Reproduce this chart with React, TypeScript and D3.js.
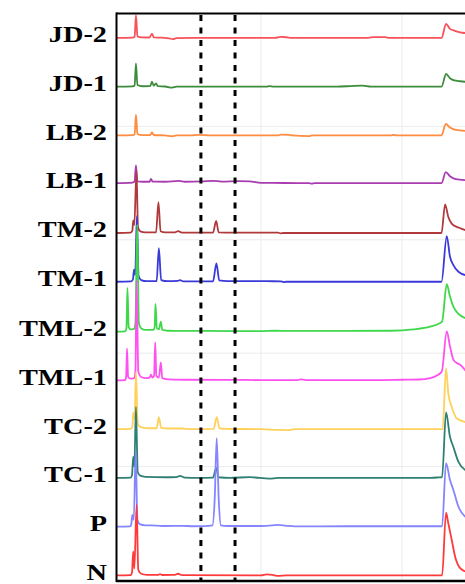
import * as d3 from 'd3';

// sample names, top to bottom
const labels = ['JD-2', 'JD-1', 'LB-2', 'LB-1', 'TM-2', 'TM-1', 'TML-2', 'TML-1', 'TC-2', 'TC-1', 'P', 'N'];
const colors = ['#f8515a', '#3c8c3c', '#ff8c40', '#a93cb0', '#b0393b', '#3a3ad8', '#3ed84a', '#ff50f0', '#ffd05a', '#2f7f72', '#8585ff', '#ff3a3a'];
// vertical offset of every trace (intensity units)
const offsets = [478, 435, 392, 350, 306, 263, 219, 176, 133, 90, 47, 4];
// retention times of the dashed markers (min)
const markers = [2.87, 4.08];
const gridX = [5, 10];
const gridY = [100, 200, 300, 400];

// chromatogram points: [time (min), intensity above offset]
const jd2 = [[-0.14, 0], [0.45, 0.3], [0.52, 1], [0.567, 20], [0.62, 1.5], [0.75, 0.5], [1.05, 0.4], [1.135, 3.9], [1.2, 0.5], [1.5, 0.2], [1.75, -0.4], [1.88, -1.1], [2.0, -0.2], [2.6, 0], [5.5, 0], [5.7, 0.9], [5.9, 0.6], [6.1, 0], [8.8, 0], [9.0, 0.8], [9.4, 0.7], [9.55, 0], [11.4, 0], [11.56, 12.3], [11.7, 8], [11.85, 6.5], [12.06, 5], [12.3, 4.2]];
const jd1 = [[-0.14, 0], [0.45, 0.3], [0.52, 1], [0.567, 20.6], [0.62, 1.5], [0.8, 0.4], [1.07, 0.5], [1.135, 4.4], [1.2, 1], [1.28, 3.0], [1.34, 0.5], [1.6, 0.2], [1.85, -0.8], [2.0, 0], [5.2, 0], [5.3, 0.6], [5.45, 0], [7.7, 0], [8.3, 0.8], [8.6, 0.9], [8.9, 0], [11.4, 0], [11.56, 11.2], [11.7, 7.5], [11.85, 5.5], [12.06, 4.8], [12.3, 4.2]];
const lb2 = [[-0.14, 0], [0.45, 0.3], [0.52, 1], [0.567, 18.3], [0.62, 1.3], [0.8, 0.3], [1.07, 0.4], [1.135, 2.6], [1.2, 0.4], [1.6, 0], [1.85, -0.8], [2.0, 0], [2.5, 0], [2.8, 0.5], [3.2, 0], [5.6, 0], [5.7, 0.8], [6.0, 0.6], [6.1, 0], [6.7, -0.6], [6.8, 0], [9.6, 0], [9.7, 0.6], [9.8, 0], [11.4, 0], [11.55, 10.3], [11.7, 7], [11.9, 5], [12.3, 4]];
const lb1 = [[-0.14, 0], [0.45, 0.5], [0.52, 1.5], [0.567, 15.6], [0.62, 1.6], [0.8, 1.2], [1.05, 1.2], [1.1, 3.6], [1.16, 1.3], [1.6, 1.2], [2.1, 1.9], [2.3, 1.2], [2.9, 1.5], [3.3, 2], [3.6, 1.3], [4.2, 1.7], [4.6, 1.5], [5.0, 0.2], [6.7, 0], [6.8, -0.5], [6.9, 0], [11.4, 0], [11.55, 9.7], [11.7, 6], [11.9, 3.5], [12.3, 2.5]];
const tm2 = [[-0.14, 0], [0.38, 0.3], [0.44, 2], [0.47, 11.2], [0.51, 7], [0.585, 54.7], [0.64, 5], [0.72, 1.5], [0.9, 0.6], [1.28, 0.6], [1.365, 27.3], [1.44, 1.5], [1.6, 0.5], [1.95, 0.6], [2.06, 1.6], [2.2, 0.4], [3.3, 0.4], [3.41, 10.6], [3.5, 0.6], [4.0, 0.3], [5.6, 0.3], [5.7, -0.3], [5.8, 0], [11.4, 0], [11.525, 25.3], [11.64, 14.1], [11.76, 8.3], [12.0, 4.8], [12.3, 2.2]];
const tm1 = [[-0.14, 0], [0.4, 0.3], [0.46, 2], [0.5, 10.6], [0.54, 6], [0.6, 57.9], [0.66, 5], [0.75, 1.5], [0.95, 0.5], [1.3, 0.5], [1.38, 29.7], [1.46, 1.5], [1.7, 0.5], [2.05, 0.8], [2.13, 1.5], [2.25, 0.3], [3.3, 0.4], [3.42, 16.2], [3.52, 1.2], [3.8, 0.6], [4.5, 0.6], [5.2, 0.5], [5.7, 0.4], [5.8, -0.3], [5.9, 0], [11.4, 0], [11.585, 40.3], [11.7, 22], [11.82, 14.7], [12.0, 8.8], [12.3, 5.5]];
const tml2 = [[-0.14, 0], [0.18, 0.3], [0.23, 3], [0.266, 38.5], [0.31, 4], [0.38, 2], [0.5, 2.5], [0.55, 8], [0.61, 94.4], [0.67, 8], [0.75, 3], [0.9, 1.5], [1.18, 1.5], [1.23, 4], [1.26, 24.4], [1.31, 3], [1.38, 2], [1.45, 8.8], [1.5, 1.5], [1.7, 0.8], [2.2, 0.6], [3.0, 0.6], [5.0, 0.5], [5.5, 0.8], [6.0, 0.6], [8.0, 0.6], [9.6, 0.8], [10.4, 2], [11.0, 4.4], [11.3, 7], [11.42, 9], [11.585, 41.8], [11.7, 30.9], [11.82, 22], [12.0, 15.6], [12.3, 11.5]];
const tml1 = [[-0.14, 0], [0.18, 0.3], [0.22, 3], [0.25, 28.2], [0.29, 3], [0.38, 1.5], [0.5, 2], [0.55, 8], [0.59, 88], [0.65, 8], [0.75, 3], [0.95, 2], [1.05, 2.5], [1.1, 5], [1.15, 2.5], [1.21, 4], [1.25, 33.5], [1.29, 4], [1.38, 2.5], [1.45, 15.9], [1.5, 2], [1.7, 1], [2.3, 0.6], [4.0, 0.5], [5.0, 0.3], [6.3, 0.3], [6.4, 0.9], [6.6, 0.3], [9.0, 0.3], [10.0, 0.6], [10.6, 0.8], [11.0, 2], [11.25, 4.5], [11.41, 7.9], [11.585, 43.2], [11.7, 30], [11.82, 18.3], [11.94, 15.3], [12.06, 13.8], [12.3, 7]];
const tc2 = [[-0.14, 0], [0.38, 0.3], [0.44, 2], [0.475, 14.7], [0.52, 9], [0.567, 50.3], [0.63, 5], [0.72, 2], [0.9, 1], [1.3, 0.8], [1.38, 10.6], [1.46, 1.2], [1.7, 0.6], [2.2, 0.6], [2.5, 0], [3.32, 0.3], [3.43, 10.6], [3.53, 0.8], [3.8, 0.3], [5.0, 0], [5.6, -0.6], [6.0, -0.8], [6.2, 0], [11.44, 0], [11.56, 53.8], [11.64, 31.5], [11.76, 19.7], [11.94, 9.4], [12.3, 6]];
const tc1 = [[-0.14, 0], [0.38, 0.3], [0.43, 3], [0.47, 18.5], [0.51, 10], [0.567, 62.6], [0.63, 5], [0.72, 2], [0.9, 1], [1.6, 0.6], [2.0, 0.8], [2.13, 1.8], [2.3, 0.3], [2.8, 0], [3.3, 0.3], [3.41, 8.8], [3.5, 0.6], [3.9, 0], [4.6, 0.8], [4.8, 0.4], [5.3, -0.6], [5.6, 0], [8.0, 0], [11.0, 0], [11.3, 0.5], [11.42, 0.8], [11.56, 57.7], [11.7, 36.2], [11.82, 27.3], [12.0, 14.1], [12.3, 6]];
const p = [[-0.14, 0], [0.36, 0.3], [0.4, 2], [0.44, 10.3], [0.49, 6], [0.557, 66.2], [0.62, 6], [0.72, 2], [0.9, 1.2], [1.3, 1], [1.6, 0.6], [2.2, 0.8], [2.6, 0.4], [3.0, 0.5], [3.28, 1.2], [3.36, 25], [3.43, 78], [3.5, 25], [3.58, 1.2], [3.8, 0.6], [4.6, 0.6], [5.2, 0.8], [5.6, 1.6], [5.9, 0.8], [6.2, 0.3], [8.0, 0.4], [11.42, 0.4], [11.56, 56], [11.7, 41.2], [11.82, 32.4], [12.0, 17.6], [12.3, 7.5]];
const n = [[-0.14, 0], [0.38, 0.3], [0.43, 3], [0.47, 21.2], [0.51, 6], [0.59, 62.4], [0.65, 5], [0.75, 1.5], [0.95, 0.6], [1.35, 0.5], [1.42, 1.2], [1.5, 0.4], [1.95, 0.5], [2.06, 1.5], [2.2, 0.3], [5.0, 0], [5.2, 0.9], [5.4, 0.6], [5.6, -0.4], [5.9, 0], [11.42, 0], [11.56, 55.3], [11.64, 46], [11.76, 31.5], [11.88, 16.8], [12.06, 6.5], [12.3, 3]];

const traces = [jd2, jd1, lb2, lb1, tm2, tm1, tml2, tml1, tc2, tc1, p, n];

const W = 465;
const H = 584;
const left = 116;
const top = 13;
const bottom = 580;

export default function App() {
  const x = d3.scaleLinear().domain([-0.14, 12.48]).range([left, 472]);
  const y = d3.scaleLinear().domain([0, 500]).range([bottom, top]);

  const line = (offset) =>
    d3
      .line()
      .x((d) => x(d[0]))
      .y((d) => y(offset + d[1]))
      .curve(d3.curveMonotoneX);

  return (
    <svg width={W} height={H} style={{ position: 'absolute', left: 0, top: 0, background: '#fff' }}>
      {/* faint grid */}
      {gridY.map((v) => (
        <line key={'gy' + v} x1={left} x2={W} y1={y(v)} y2={y(v)} stroke="#ececec" strokeWidth={1} />
      ))}
      {gridX.map((v) => (
        <line key={'gx' + v} x1={x(v)} x2={x(v)} y1={top} y2={bottom} stroke="#ececec" strokeWidth={1} />
      ))}

      {/* traces, top one first so lower ones sit on top */}
      {traces.map((pts, i) => (
        <path
          key={labels[i]}
          d={line(offsets[i])(pts)}
          fill="none"
          stroke={colors[i]}
          strokeWidth={1.8}
          strokeLinejoin="round"
        />
      ))}

      {markers.map((t) => (
        <line
          key={'m' + t}
          x1={x(t)}
          x2={x(t)}
          y1={top + 2}
          y2={bottom}
          stroke="#000"
          strokeWidth={3}
          strokeDasharray="6,6.5"
        />
      ))}

      {/* frame */}
      <line x1={left} x2={W} y1={top + 0.5} y2={top + 0.5} stroke="#000" strokeWidth={2} />
      <line x1={left + 0.5} x2={left + 0.5} y1={top - 0.5} y2={bottom + 2} stroke="#000" strokeWidth={2} />
      <line x1={left} x2={W} y1={bottom + 1} y2={bottom + 1} stroke="#000" strokeWidth={2.5} />

      {labels.map((lab, i) => (
        <g key={'l' + lab} transform={`translate(107, ${y(offsets[i]) + 4.5}) scale(1.18, 1)`}>
          <text
            textAnchor="end"
            fontFamily="'Liberation Serif', 'Times New Roman', serif"
            fontWeight="bold"
            fontSize={24}
            fill="#000"
          >
            {lab}
          </text>
        </g>
      ))}
    </svg>
  );
}
